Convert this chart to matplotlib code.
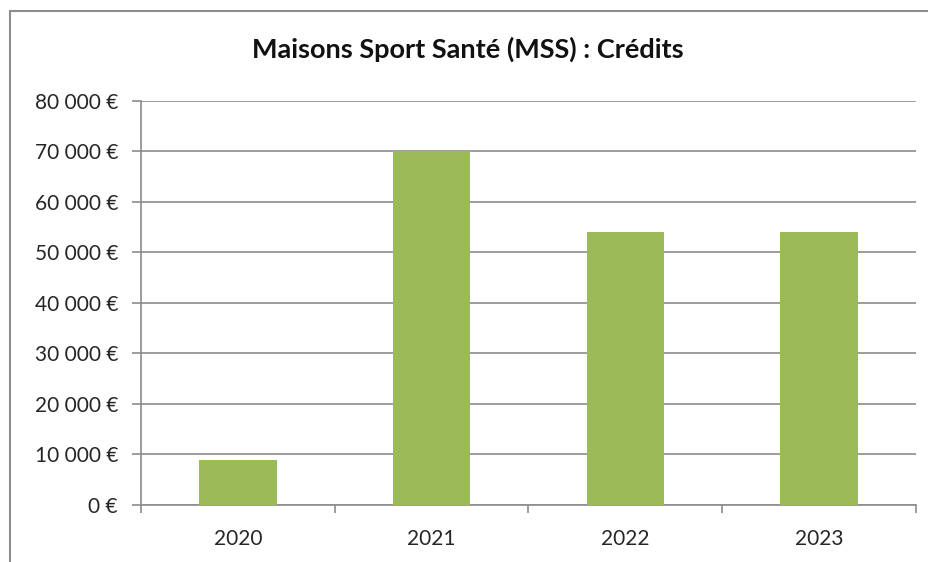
import matplotlib
matplotlib.use("Agg")
import matplotlib.pyplot as plt
from matplotlib.patches import Rectangle
from matplotlib.ticker import FuncFormatter, FixedLocator

years = ["2020", "2021", "2022", "2023"]
credits = [9000, 70000, 54000, 54000]
y_ticks = [0, 10000, 20000, 30000, 40000, 50000, 60000, 70000, 80000]

plt.rcParams["font.family"] = ["Lato", "DejaVu Sans"]

fig = plt.figure(figsize=(9.29, 5.62), dpi=100)
ax = fig.add_axes([141 / 929, 1 - 505 / 562, (916 - 141) / 929, (505 - 100.7) / 562])

# outer chart border (cut off at right and bottom like the screenshot)
fig.patches.append(Rectangle((10 / 929, -0.1), 1.2, 1 - 11 / 562 + 0.1,
                             transform=fig.transFigure, fill=False,
                             edgecolor="#8c8c8c", linewidth=1.5))

x = list(range(len(years)))
ax.bar(x, credits, width=0.4, color="#9bbb59", zorder=3)

ax.set_xlim(-0.5, len(years) - 0.5)
ax.set_ylim(0, 80000)
ax.set_yticks(y_ticks)
ax.yaxis.set_major_formatter(FuncFormatter(lambda v, p: f"{v:,.0f} €".replace(",", " ")))
ax.grid(axis="y", color="#8c8c8c", linewidth=1.2, zorder=0)

ax.set_xticks(x)
ax.set_xticklabels(years)
ax.xaxis.set_minor_locator(FixedLocator([i - 0.5 for i in range(len(years) + 1)]))
ax.tick_params(axis="x", which="major", length=0, pad=17, labelsize=15, labelcolor="#262626")
ax.tick_params(axis="x", which="minor", length=6, width=1.2, color="#8c8c8c")
ax.tick_params(axis="y", length=6.5, width=1.2, color="#8c8c8c", pad=10,
               labelsize=15, labelcolor="#262626")

for side in ["top", "right"]:
    ax.spines[side].set_visible(False)
for side in ["left", "bottom"]:
    ax.spines[side].set_color("#8c8c8c")
    ax.spines[side].set_linewidth(1.2)

fig.text(468 / 929, 1 - 49 / 562, "Maisons Sport Santé (MSS) : Crédits",
         ha="center", va="center", fontsize=19.5, fontweight="bold", color="#111111")

fig.savefig("out.png", dpi=100)
